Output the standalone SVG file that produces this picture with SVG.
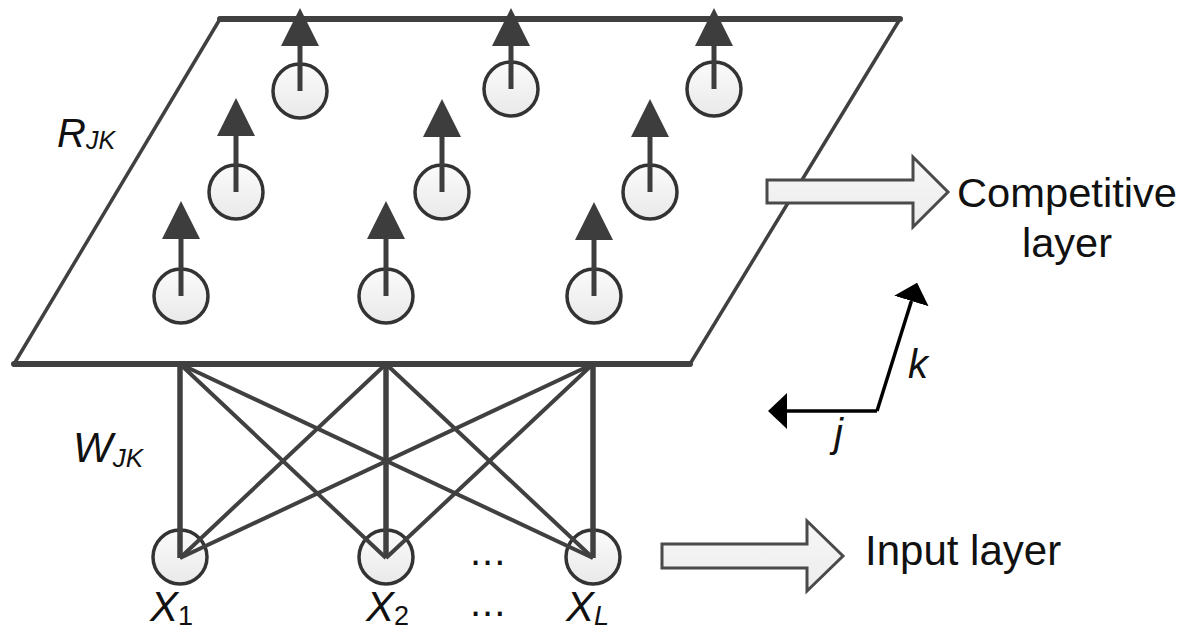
<svg xmlns="http://www.w3.org/2000/svg" width="1184" height="631" viewBox="0 0 1184 631">
<defs>
<linearGradient id="cg" x1="0" y1="0" x2="0" y2="1">
<stop offset="0" stop-color="#fbfbfb"/>
<stop offset="1" stop-color="#e9e9e9"/>
</linearGradient>
<linearGradient id="ag" x1="0" y1="0" x2="0" y2="1">
<stop offset="0" stop-color="#f7f7f7"/>
<stop offset="1" stop-color="#ececec"/>
</linearGradient>
<marker id="up" markerUnits="userSpaceOnUse" markerWidth="40" markerHeight="40" viewBox="0 -20 40 40" refX="0" refY="0" orient="auto">
<path d="M0,-19 L38,0 L0,19 Z" fill="#3d3d3d"/>
</marker>
<marker id="ax" markerUnits="userSpaceOnUse" markerWidth="22" markerHeight="40" viewBox="0 -20 22 40" refX="0" refY="0" orient="auto">
<path d="M0,-18 L19,0 L0,18 Z" fill="#000"/>
</marker>
</defs>
<style>
.node{fill:url(#cg);stroke:#333;stroke-width:3.5}
.out{stroke:#3d3d3d;stroke-width:5;fill:none;marker-end:url(#up)}
.w{stroke:#404040;stroke-width:4;fill:none}
.wv{stroke:#404040;stroke-width:5.5;fill:none}
.big{fill:url(#ag);stroke:#4a4a4a;stroke-width:3;stroke-linejoin:miter}
.axis{stroke:#000;stroke-width:3.5;fill:none;stroke-linejoin:miter}
.t{font-family:"Liberation Sans",Arial,sans-serif;fill:#111}
.i{font-style:italic}
</style>

<g id="competitive-plane">
<path d="M220,19 L14,364" stroke="#404040" stroke-width="3.5" fill="none"/>
<path d="M900,19 L690,364" stroke="#404040" stroke-width="3.5" fill="none"/>
<path d="M220,19 L900,19" stroke="#404040" stroke-width="6" fill="none" stroke-linecap="round"/>
<path d="M14,364 L690,364" stroke="#404040" stroke-width="6" fill="none" stroke-linecap="round"/>
</g>

<g id="competitive-neurons">
<g id="r1"><circle class="node" cx="300" cy="91" r="27"/><path class="out" d="M300,91 V46"/></g>
<g id="r2"><circle class="node" cx="511" cy="89" r="27"/><path class="out" d="M511,89 V46"/></g>
<g id="r3"><circle class="node" cx="714" cy="89" r="27"/><path class="out" d="M714,89 V46"/></g>
<g id="r4"><circle class="node" cx="236" cy="192" r="27"/><path class="out" d="M236,192 V136"/></g>
<g id="r5"><circle class="node" cx="442" cy="192" r="27"/><path class="out" d="M442,192 V137"/></g>
<g id="r6"><circle class="node" cx="650" cy="192" r="27"/><path class="out" d="M650,192 V137"/></g>
<g id="r7"><circle class="node" cx="181" cy="296" r="27"/><path class="out" d="M181,296 V239"/></g>
<g id="r8"><circle class="node" cx="386" cy="296" r="27"/><path class="out" d="M386,296 V239"/></g>
<g id="r9"><circle class="node" cx="594" cy="296" r="27"/><path class="out" d="M594,296 V240"/></g>
</g>

<g id="input-neurons">
<g id="x1"><circle class="node" cx="180" cy="557" r="27"/></g>
<g id="x2"><circle class="node" cx="386" cy="557" r="27"/></g>
<g id="xL"><circle class="node" cx="593" cy="557" r="27"/></g>
</g>

<g id="connectors">
<path class="wv" d="M180,364 V558"/>
<path class="wv" d="M386,364 V558"/>
<path class="wv" d="M593,364 V558"/>
<path class="w" d="M180,364 L386,558 M180,364 L593,558"/>
<path class="w" d="M386,364 L180,558 M386,364 L593,558"/>
<path class="w" d="M593,364 L180,558 M593,364 L386,558"/>
</g>

<g id="arrow-competitive">
<path class="big" d="M767,180 H913 V157 L948,192 L913,227 V203 H767 Z"/>
</g>
<g id="arrow-input">
<path class="big" d="M662,544 H807 V521 L843,556 L807,591 V568 H662 Z"/>
</g>

<g id="axes">
<path class="axis" d="M877,411 L911.4,301" marker-end="url(#ax)"/>
<path class="axis" d="M877,411 L787,411" marker-end="url(#ax)"/>
<text class="t i" x="908" y="378" font-size="40">k</text>
<text class="t i" x="834" y="447" font-size="40">j</text>
</g>

<g id="labels">
<text class="t i" x="57" y="147" font-size="40">R<tspan font-size="25" dy="2">JK</tspan></text>
<text class="t i" x="73" y="462" font-size="42">W<tspan font-size="26" dy="5">JK</tspan></text>
<text class="t i" x="150" y="621" font-size="42">X<tspan font-size="27" font-style="normal" dy="4">1</tspan></text>
<text class="t i" x="366" y="621" font-size="42">X<tspan font-size="27" font-style="normal" dy="4">2</tspan></text>
<text class="t i" x="566" y="621" font-size="42">X<tspan font-size="27" dy="4">L</tspan></text>
<text class="t" x="470" y="565" font-size="40" letter-spacing="1">...</text>
<text class="t" x="470" y="616" font-size="40" letter-spacing="1">...</text>
<text class="t" x="1067" y="207" font-size="40" text-anchor="middle" textLength="220" lengthAdjust="spacingAndGlyphs">Competitive</text>
<text class="t" x="1067" y="257" font-size="40" text-anchor="middle" textLength="90" lengthAdjust="spacingAndGlyphs">layer</text>
<text class="t" x="865" y="565" font-size="42">Input layer</text>
</g>
</svg>
